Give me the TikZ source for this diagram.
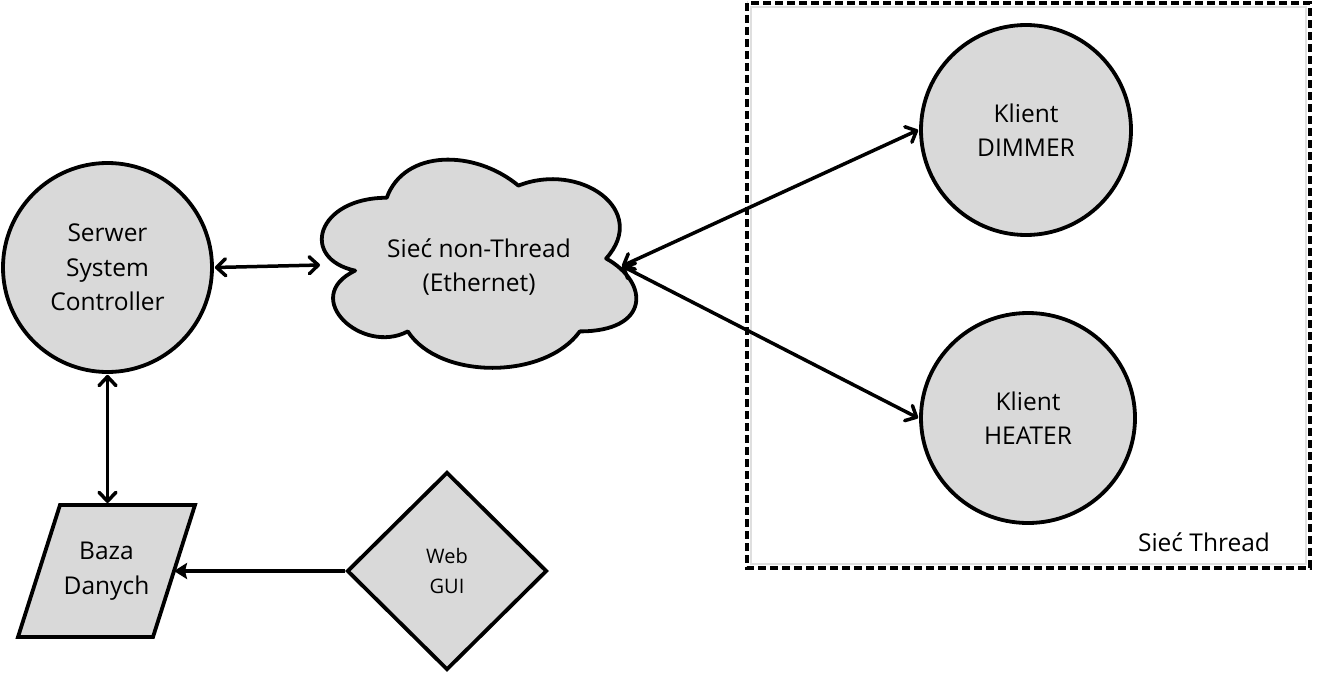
\documentclass[tikz,border=0pt]{standalone}
\usepackage{fontspec}
\setmainfont{Open Sans}
\usetikzlibrary{shapes.geometric,arrows.meta}
\begin{document}
\begin{tikzpicture}[x=1pt,y=-1pt,
  mainfont/.style={font=\fontsize{24.5}{34.5}\selectfont},
  smallfont/.style={font=\fontsize{20}{30}\selectfont},
  shapebox/.style={draw=black, fill=gray!30, line width=3.8pt, inner sep=0pt, align=center, mainfont},
  shapeline/.style={draw=black, fill=gray!30, line width=3.8pt},
  textonly/.style={inner sep=0pt, align=center, mainfont},
  barb/.tip={Straight Barb[length=9pt,width=17pt,line cap=round,line join=round]},
  biconn/.style={line width=3.5pt, line cap=round, barb-barb},
  oneconn/.style={line width=3.5pt, -{Stealth[length=13pt,width=16pt,inset=2pt]}},
  groupbox/.style={draw=black, line width=3.8pt, dash pattern=on 8pt off 4pt}
]
\useasboundingbox (0,0) rectangle (1321,674);

% Thread group box
\draw[gray!25, line width=1.5pt] (751,7) rectangle (1306,564);
\draw[groupbox] (747,3) rectangle (1310,568);
\node[textonly] (threadlbl) at (1204,542) {Sieć Thread};

% Server
\node[shapebox, circle, minimum size=209pt] (serwer) at (107.5,267.5) {Serwer\\System\\Controller};

% Cloud (draw.io cloud outline)
\draw[shapeline, line join=round]
  (386.75,197.75) .. controls (316.55,197.75) and (299,258.5) .. (355.16,270.65)
  .. controls (299,297.38) and (362.18,355.7) .. (407.81,331.4)
  .. controls (439.4,380) and (544.7,380) .. (579.8,331.4)
  .. controls (650,331.4) and (650,282.8) .. (606.125,258.5)
  .. controls (650,209.9) and (579.8,161.3) .. (518.375,185.6)
  .. controls (474.5,149.15) and (404.3,149.15) .. (386.75,197.75) -- cycle;
\node[textonly] (cloud) at (479,267) {Sieć non-Thread\\(Ethernet)};
\coordinate (cloudW) at (320,265);
\coordinate (cloudE) at (622,266);

% Clients
\node[shapebox, circle, minimum size=210pt] (dimmer) at (1026,130) {Klient\\DIMMER};
\node[shapebox, ellipse, minimum width=214pt, minimum height=210pt] (heater) at (1028,418) {Klient\\HEATER};

% Database parallelogram
\draw[shapeline, line join=miter] (60,505) -- (195,505) -- (153,637) -- (18,637) -- cycle;
\node[textonly] (baza) at (106.5,571) {Baza\\Danych};
\coordinate (bazaN) at (107.5,503);
\coordinate (bazaE) at (174,571);

% Web GUI diamond
\node[shapebox, diamond, minimum width=200pt, minimum height=198pt, smallfont] (web) at (447,571) {Web\\GUI};

% Connectors
\draw[biconn] ([xshift=1pt]serwer.east) -- (cloudW);
\draw[biconn] ([yshift=-1pt]serwer.south) -- (bazaN);
\draw[biconn] (cloudE) -- ([xshift=-1pt]dimmer.west);
\draw[biconn] (cloudE) -- ([xshift=-1pt]heater.west);
\draw[oneconn] (web.west) -- (bazaE);
\end{tikzpicture}
\end{document}
